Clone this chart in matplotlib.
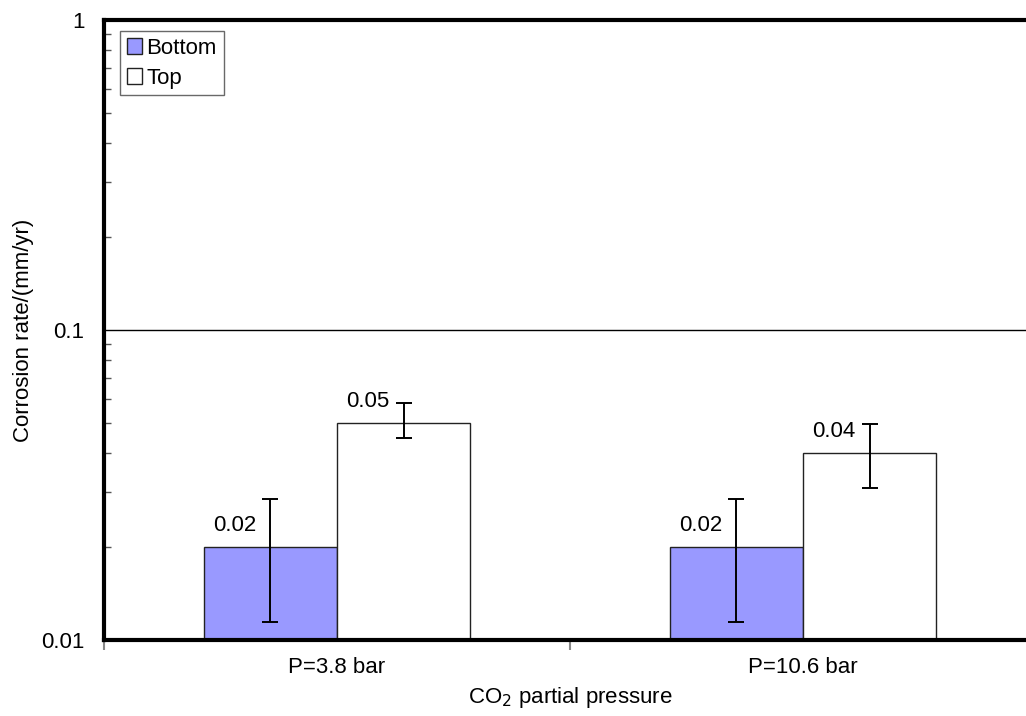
import numpy as np
import matplotlib.pyplot as plt
from matplotlib.ticker import FixedLocator, LogLocator, NullFormatter

plt.rcParams['font.family'] = ['Liberation Sans', 'DejaVu Sans']
plt.rcParams['font.size'] = 16

# corrosion rates (mm/yr) with lower/upper error
categories = ['P=3.8 bar', 'P=10.6 bar']
bottom = [0.02, 0.02]
top = [0.05, 0.04]
bottom_err_lo = [0.0086, 0.0086]
bottom_err_hi = [0.0086, 0.0086]
top_err_lo = [0.005, 0.009]
top_err_hi = [0.0083, 0.0096]

fig = plt.figure(figsize=(10.26, 7.16), dpi=100)
ax = fig.add_axes([104 / 1026, 1 - 640 / 716, 932 / 1026, 620 / 716])

x = np.arange(len(categories)) + 0.5
width = 0.286

ebar = dict(ecolor='black', elinewidth=1.4, capsize=5.5, capthick=1.4)
b1 = ax.bar(x - width / 2, bottom, width, color='#9999ff', edgecolor='#222222',
            linewidth=1, yerr=[bottom_err_lo, bottom_err_hi], error_kw=ebar,
            label='Bottom', zorder=3)
b2 = ax.bar(x + width / 2, top, width, color='white', edgecolor='#222222',
            linewidth=1, yerr=[top_err_lo, top_err_hi], error_kw=ebar,
            label='Top', zorder=3)

# value labels, set left of the error bars
for xs, vals in ((x - width / 2, bottom), (x + width / 2, top)):
    for xi, v in zip(xs, vals):
        ax.annotate('%.2f' % v, (xi, v), xytext=(-26, 15.5), textcoords='offset points',
                    ha='center', va='center', fontsize=16)

ax.set_yscale('log')
ax.set_ylim(0.01, 1)
ax.set_xlim(0, 2)
ax.yaxis.set_major_locator(FixedLocator([0.01, 0.1, 1]))
ax.set_yticklabels(['0.01', '0.1', '1'])
ax.yaxis.set_minor_locator(LogLocator(base=10, subs=np.arange(2, 10)))
ax.yaxis.set_minor_formatter(NullFormatter())
ax.tick_params(axis='y', which='major', length=0, labelsize=16, pad=14)
ax.tick_params(axis='y', which='minor', direction='in', length=5, width=1, color='#555555')

ax.xaxis.set_major_locator(FixedLocator([0, 1, 2]))
ax.xaxis.set_minor_locator(FixedLocator(x))
ax.xaxis.set_major_formatter(NullFormatter())
ax.set_xticklabels(categories, minor=True)
ax.tick_params(axis='x', which='major', direction='out', length=7, width=1.5, color='#888888')
ax.tick_params(axis='x', which='minor', length=0, pad=12, labelsize=16)

ax.axhline(0.1, color='black', lw=1, zorder=1)

for side in ('left', 'bottom', 'top'):
    ax.spines[side].set_linewidth(3)
    ax.spines[side].set_color('black')
ax.spines['right'].set_visible(False)
ax.spines['bottom'].set_zorder(4)

ax.set_ylabel('Corrosion rate/(mm/yr)', fontsize=16, labelpad=5)
ax.set_xlabel('CO$_2$ partial pressure', fontsize=16, labelpad=5)

leg = ax.legend(loc='upper left', bbox_to_anchor=(0.017, 0.982), fontsize=16,
                frameon=True, fancybox=False, handlelength=0.7, handleheight=0.7,
                handletextpad=0.2, borderpad=0.3, labelspacing=0.4, borderaxespad=0)
leg.get_frame().set_edgecolor('#444444')
leg.get_frame().set_linewidth(1)

fig.savefig('out.png', dpi=100)
